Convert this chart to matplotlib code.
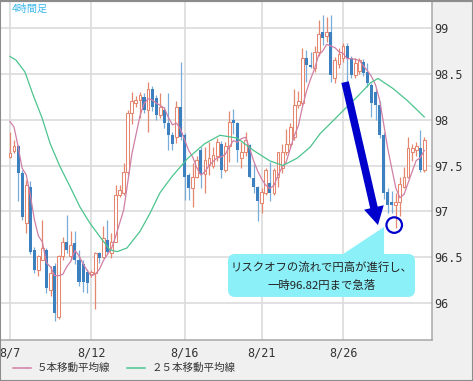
import matplotlib
matplotlib.use('Agg')
import matplotlib.pyplot as plt
import numpy as np
import pandas as pd
from matplotlib.patches import FancyBboxPatch, Polygon, Rectangle
from matplotlib.transforms import ScaledTranslation
from matplotlib.lines import Line2D

# ---------------- data ----------------
date_labels = ['8/7', '8/12', '8/16', '8/21', '8/26']
date_pos = [0, 20, 43, 62, 82]

opens = [97.59, 97.66, 97.71, 97.42, 96.87, 97.27, 96.58, 96.36, 96.47, 96.58,
         96.14, 96.40, 95.85, 96.51, 96.67, 96.51, 96.65, 96.47, 96.43, 96.34,
         96.32, 96.33, 96.55, 96.50, 96.69, 96.55, 96.67, 97.18, 97.20, 97.43,
         98.07, 98.18, 98.22, 98.25, 98.11, 98.34, 98.24, 98.05, 98.11, 97.96,
         97.83, 97.81, 98.14, 97.83, 97.40, 97.25, 97.38, 97.67, 97.41, 97.51,
         97.49, 97.60, 97.74, 97.45, 97.71, 98.00, 97.96, 97.58, 97.65, 97.72,
         97.36, 97.27, 97.09, 97.20, 97.31, 97.20, 97.38, 97.47, 97.65, 97.74,
         97.81, 98.16, 98.18, 98.67, 98.60, 98.56, 98.74, 98.96, 98.91, 98.96,
         98.45, 98.61, 98.67, 98.80, 98.67, 98.49, 98.53, 98.63, 98.52, 98.38,
         98.30, 98.16, 97.83, 97.21, 97.10, 97.07, 97.10, 97.27, 97.38, 97.65,
         97.67, 97.69, 97.45]
highs = [97.87, 97.78, 97.72, 97.45, 97.34, 97.33, 96.61, 96.52, 96.91, 96.60,
         96.40, 96.44, 96.52, 96.72, 96.96, 96.78, 96.78, 96.58, 96.47, 96.37,
         96.36, 96.56, 96.56, 96.84, 96.91, 96.76, 97.29, 97.29, 97.53, 98.11,
         98.30, 98.26, 98.30, 98.29, 98.41, 98.37, 98.27, 98.29, 98.14, 98.29,
         97.87, 98.20, 98.63, 97.85, 97.42, 97.53, 97.60, 97.70, 97.70, 97.76,
         97.70, 97.80, 97.77, 97.76, 98.09, 98.12, 97.98, 97.76, 97.87, 97.74,
         97.52, 97.28, 97.25, 97.47, 97.54, 97.47, 97.65, 97.74, 97.90, 97.96,
         98.34, 98.31, 98.78, 98.76, 98.74, 98.80, 99.09, 99.14, 99.12, 99.14,
         98.68, 98.78, 98.84, 98.84, 98.69, 98.67, 98.67, 98.66, 98.62, 98.40,
         98.33, 98.20, 97.87, 97.25, 97.22, 97.20, 97.37, 97.48, 97.81, 97.74,
         97.76, 97.89, 97.81]
lows = [97.58, 97.64, 97.11, 96.91, 96.76, 96.53, 96.33, 96.29, 96.47, 96.11,
        96.08, 95.80, 95.82, 96.47, 96.55, 96.47, 96.43, 96.18, 96.12, 96.11,
        96.28, 95.93, 96.44, 96.49, 96.55, 96.49, 96.66, 97.16, 97.18, 97.40,
        97.95, 98.14, 98.02, 98.07, 97.87, 98.09, 98.00, 98.02, 97.91, 97.67,
        97.67, 97.75, 97.78, 97.12, 97.12, 97.05, 97.36, 97.25, 97.20, 97.40,
        97.47, 97.55, 97.36, 97.43, 97.54, 97.84, 97.54, 97.47, 97.60, 97.36,
        97.20, 96.89, 96.98, 97.18, 97.11, 97.18, 97.27, 97.42, 97.62, 97.69,
        97.78, 98.13, 98.16, 98.41, 98.56, 98.52, 98.69, 98.81, 98.85, 98.41,
        98.40, 98.56, 98.63, 98.41, 98.46, 98.46, 98.50, 98.48, 98.36, 98.03,
        98.00, 97.80, 97.13, 96.98, 96.98, 96.82, 96.95, 97.25, 97.36, 97.55,
        97.60, 97.43, 97.43]
closes = [97.64, 97.71, 97.42, 96.94, 97.29, 96.56, 96.36, 96.51, 96.60, 96.16,
          96.33, 95.89, 96.51, 96.67, 96.58, 96.63, 96.47, 96.23, 96.23, 96.22,
          96.34, 96.55, 96.49, 96.71, 96.56, 96.67, 97.18, 97.23, 97.43, 98.07,
          98.20, 98.22, 98.27, 98.11, 98.34, 98.14, 98.05, 98.14, 97.96, 97.83,
          97.74, 98.14, 97.81, 97.38, 97.25, 97.38, 97.56, 97.41, 97.56, 97.58,
          97.61, 97.76, 97.45, 97.71, 97.98, 97.96, 97.67, 97.65, 97.78, 97.38,
          97.27, 97.11, 97.21, 97.45, 97.20, 97.45, 97.65, 97.65, 97.74, 97.92,
          98.16, 98.20, 98.67, 98.60, 98.58, 98.74, 98.94, 98.89, 98.96, 98.49,
          98.65, 98.72, 98.80, 98.67, 98.49, 98.62, 98.65, 98.51, 98.40, 98.18,
          98.16, 97.83, 97.20, 97.07, 97.07, 97.10, 97.30, 97.38, 97.69, 97.69,
          97.71, 97.45, 97.78]
# estimated closes of the four bars just before the visible window (for the 5-bar MA)
prior_closes = [98.01, 98.47, 98.14, 97.64]

# 25-bar moving average
ma25_idx = [0, 1.5, 3.7, 5.7, 7.9, 9.9, 12.3, 14.8, 17.2, 19.7, 22.2, 24.6, 26.4,
            28.8, 32, 34.5, 36.9, 39.9, 43.8, 48, 51.7, 55.9, 60.1, 64, 67.2, 70.7,
            73.9, 76.4, 79.6, 82.5, 85.5, 88.7, 90.6, 94.3, 97.8, 102]
ma25_val = [98.69, 98.65, 98.52, 98.27, 98.02, 97.74, 97.49, 97.27, 97.05, 96.87,
            96.72, 96.58, 96.56, 96.60, 96.78, 96.98, 97.20, 97.38, 97.58, 97.74,
            97.83, 97.80, 97.66, 97.55, 97.50, 97.58, 97.70, 97.85, 97.99, 98.12,
            98.25, 98.40, 98.45, 98.34, 98.21, 98.03]

yticks = [96, 96.5, 97, 97.5, 98, 98.5, 99]
ytick_labels = ['96', '96.5', '97', '97.5', '98', '98.5', '99']

legend_labels = ['５本移動平均線', '２５本移動平均線']
title_text = '4時間足'
callout_lines = ['リスクオフの流れで円高が進行し、', '一時96.82円まで急落']

# annotation anchors (data units)
arrow_start = (82.5, 98.41)
arrow_end = (90.6, 96.85)
circle_at = (94.6, 96.85)
callout_center = (76.7, 96.30)
callout_line_y = [96.385, 96.196]
pointer = [(80.5, 96.49), (92.1, 96.83), (92.1, 96.49)]

# ---------------- style ----------------
JP = ['Noto Sans CJK JP', 'DejaVu Sans']
MONO = 'DejaVu Sans Mono'
UP = '#e5866e'
DOWN = '#3d80bf'
DOWN_WICK = '#78acd9'
MA5C = '#d07fa5'
MA25C = '#4cc48e'
GRID = '#dcdcdc'
TXT = '#333333'

W, H = 473, 381
fig = plt.figure(figsize=(W / 100, H / 100), dpi=100, facecolor='#f0f0f0')
ax = fig.add_axes([1 / W, 1 - 340 / H, 431 / W, 339 / H])
ax.set_facecolor('white')

n = len(closes)
x = np.arange(n)
o = np.array(opens); h = np.array(highs); l = np.array(lows); c = np.array(closes)
up = c >= o

ax.set_xlim(-2.2, 103.9)
ax.set_ylim(95.596, 99.295)

ax.set_xticks(date_pos)
ax.set_xticklabels(date_labels, fontfamily=MONO, fontsize=8.5, color=TXT)
ax.set_yticks(yticks)
ax.set_yticklabels(ytick_labels, fontfamily=MONO, fontsize=8.5, color=TXT)
ax.yaxis.tick_right()
ax.tick_params(axis='y', length=0, pad=1.5)
ax.tick_params(axis='x', length=0, pad=5)
ax.grid(True, color=GRID, lw=1.2)
ax.set_axisbelow(True)

for s in ['left', 'top']:
    ax.spines[s].set_visible(False)
for s in ['right', 'bottom']:
    ax.spines[s].set_color('#a8a8a8')
    ax.spines[s].set_linewidth(1.1)

# candles
ax.vlines(x[up], l[up], h[up], color=UP, lw=0.9, zorder=2)
ax.vlines(x[~up], l[~up], h[~up], color=DOWN_WICK, lw=0.9, zorder=2)
ax.bar(x[up], (c - o)[up], bottom=o[up], width=0.7, facecolor='white',
       edgecolor=UP, linewidth=0.75, zorder=3)
ax.bar(x[~up], (o - c)[~up], bottom=c[~up], width=0.75, color=DOWN,
       linewidth=0, zorder=3)

# moving averages
ma5 = pd.Series(prior_closes + closes).rolling(5).mean().iloc[len(prior_closes):].to_numpy()
ax.plot(x, ma5, color=MA5C, lw=0.9, zorder=4)
ax.plot(ma25_idx, ma25_val, color=MA25C, lw=0.9, zorder=4)

# arrow
ax.annotate('', xy=arrow_end, xytext=arrow_start,
            arrowprops=dict(arrowstyle='simple,head_length=1.3,head_width=1.45,tail_width=0.55',
                            mutation_scale=10, color='#0000cc', lw=0,
                            shrinkA=0, shrinkB=0), zorder=6)
# circle
ax.scatter([circle_at[0]], [circle_at[1]], s=125, facecolors='none',
           edgecolors='#0000cc', linewidths=1.6, zorder=6)

# callout
trans = fig.dpi_scale_trans + ScaledTranslation(callout_center[0], callout_center[1], ax.transData)
box = FancyBboxPatch((-0.935, -0.215), 1.87, 0.43,
                     boxstyle='round,pad=0,rounding_size=0.07',
                     transform=trans, fc='#8cf0f8', ec='none', zorder=7, clip_on=False)
ax.add_patch(box)
ax.add_patch(Polygon(pointer, closed=True, fc='#8cf0f8', ec='none', zorder=7))
for line, yy in zip(callout_lines, callout_line_y):
    ax.text(callout_center[0], yy, line, ha='center', va='center', fontsize=8.2,
            family=JP, color='#222222', zorder=8)

# title
fig.text(12 / W, 1 - 9 / H, title_text, ha='left', va='center', fontsize=7.3,
         family=JP, color='#3cb8ec')

# legend
ly = 1 - 368 / H
fig.add_artist(Line2D([13 / W, 31 / W], [ly, ly], color=MA5C, lw=1.1))
fig.text(37 / W, ly, legend_labels[0], ha='left', va='center', fontsize=7.6,
         family=JP, color=TXT)
fig.add_artist(Line2D([127 / W, 145 / W], [ly, ly], color=MA25C, lw=1.1))
fig.text(152 / W, ly, legend_labels[1], ha='left', va='center', fontsize=7.6,
         family=JP, color=TXT)

# outer frame
fig.add_artist(Rectangle((0, 0), 1, 1, transform=fig.transFigure, fill=False,
                         ec='#8c8c8c', lw=1.5))
fig.add_artist(Line2D([0, 1], [1, 1], transform=fig.transFigure, color='#8c8c8c', lw=3))

fig.savefig('out.png', dpi=100, facecolor=fig.get_facecolor())
